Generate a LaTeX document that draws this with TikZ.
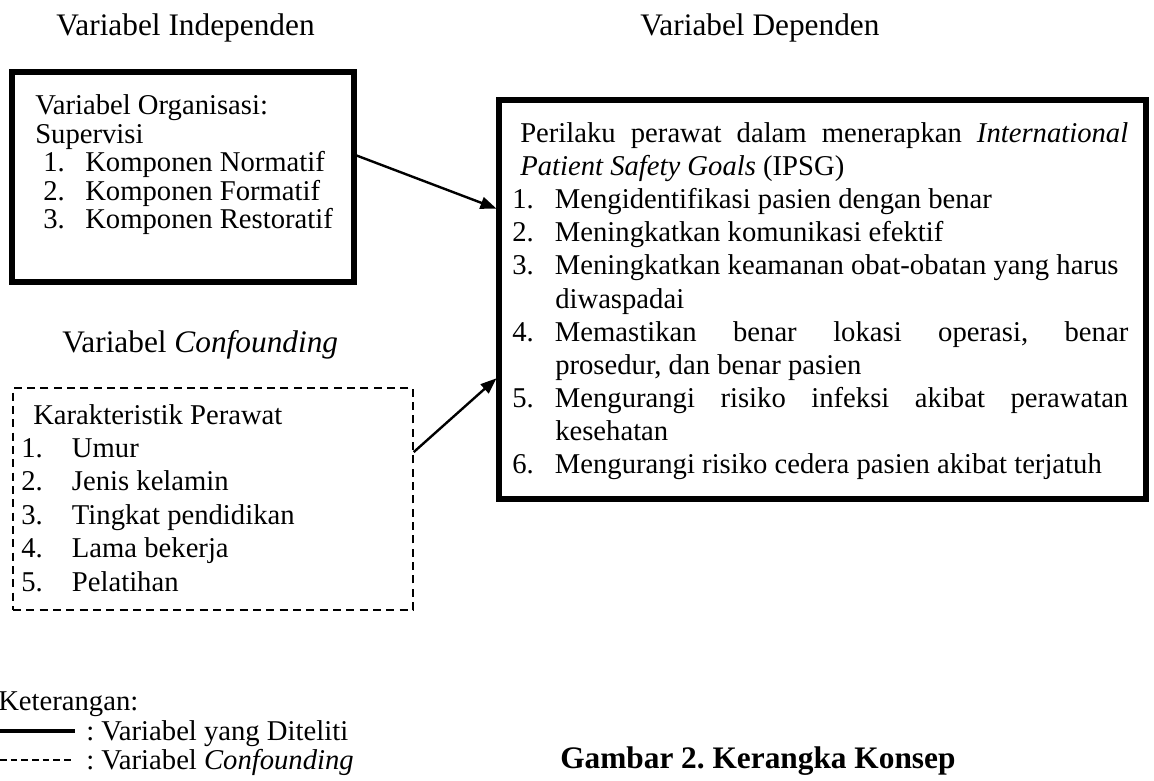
\documentclass[tikz,border=0pt]{standalone}
\usepackage{fontspec}
\setmainfont{Liberation Serif}
\usetikzlibrary{arrows.meta,calc,fit}
\frenchspacing
\begin{document}
\begin{tikzpicture}[x=0.75pt,y=-0.75pt,
    every node/.style={inner sep=0pt,font=\fontsize{21.5}{24}\selectfont},
    txt/.style={anchor=base west},
    head/.style={anchor=base west,font=\fontsize{23.5}{26}\selectfont},
    solidbox/.style={draw,line width=3.8pt,fit={#1}},
    dashbox/.style={draw,line width=1.1pt,dash pattern=on 6pt off 4pt,fit={#1}},
    link/.style={line width=1.8pt,-{Triangle[length=12pt,width=9pt]}}]
  \useasboundingbox (0,0) rectangle (1154,781);
  % headers
  \node[head] (hindep) at (56,36) {Variabel Independen};
  \node[head] (hdep) at (640,36) {Variabel Dependen};
  \node[head] (hconf) at (62,352) {Variabel \textit{Confounding}};
  % boxes
  \node[solidbox={(12,72) (354,282)}] (indep) {};
  \node[solidbox={(499,100) (1146,499)}] (dep) {};
  \node[dashbox={(13,388) (413,610)}] (conf) {};
  % independent variables
  \node[txt] (org) at (35,115) {Variabel Organisasi:};
  \node[txt] (sup) at (35,143.5) {Supervisi};
  \foreach \t [count=\i] in {Komponen Normatif,Komponen Formatif,Komponen Restoratif}
    \node[txt] (sup\i) at (43,143.5+28.5*\i) {\makebox[31.5pt][l]{\i.}\t};
  % confounding variables
  \node[txt] (kar) at (33,424) {Karakteristik Perawat};
  \foreach \t [count=\i] in {Umur,Jenis kelamin,Tingkat pendidikan,Lama bekerja,Pelatihan}
    \node[txt] (kar\i) at (21,424+33.4*\i) {\makebox[38pt][l]{\i.}\t};
  % dependent variable
  \node[txt] (ipsg) at (520,143) {\makebox[456pt][s]{Perilaku perawat dalam menerapkan \textit{International}}};
  \node[txt] (ipsgb) at (520,176) {\textit{Patient Safety Goals} (IPSG)};
  \node[txt] (g1) at (512,209) {\makebox[32pt][l]{1.}Mengidentifikasi pasien dengan benar};
  \node[txt] (g2) at (512,242) {\makebox[32pt][l]{2.}Meningkatkan komunikasi efektif};
  \node[txt] (g3) at (512,275) {\makebox[32pt][l]{3.}Meningkatkan keamanan obat-obatan yang harus};
  \node[txt] (g3b) at (555,308) {diwaspadai};
  \node[txt] (g4) at (512,341) {\makebox[32pt][l]{4.}\makebox[430pt][s]{Memastikan benar lokasi operasi, benar}};
  \node[txt] (g4b) at (555,374) {prosedur, dan benar pasien};
  \node[txt] (g5) at (512,407) {\makebox[32pt][l]{5.}\makebox[430pt][s]{Mengurangi risiko infeksi akibat perawatan}};
  \node[txt] (g5b) at (555,440) {kesehatan};
  \node[txt] (g6) at (512,473) {\makebox[32pt][l]{6.}Mengurangi risiko cedera pasien akibat terjatuh};
  % relations
  \draw[link] ($(indep.north east)!0.4!(indep.south east)$) -- ($(dep.north west)!0.275!(dep.south west)$);
  \draw[link] ($(conf.north east)!0.29!(conf.south east)$) -- ($(dep.north west)!0.695!(dep.south west)$);
  % legend
  \node[txt] (ket) at (-2,710) {Keterangan:};
  \coordinate (l1a) at (0,731);
  \coordinate (l1b) at (75,731);
  \coordinate (l2a) at (0,760);
  \coordinate (l2b) at (72,760);
  \draw[line width=3.5pt] (l1a) -- (l1b);
  \draw[line width=0.8pt,dash pattern=on 5pt off 3pt] (l2a) -- (l2b);
  \node[txt] (ket1) at (86,740) {: Variabel yang Diteliti};
  \node[txt] (ket2) at (86,769) {: Variabel \textit{Confounding}};
  \node[head,font=\fontsize{23.5}{26}\selectfont\bfseries] (judul) at (560,768) {Gambar 2. Kerangka Konsep};
\end{tikzpicture}
\end{document}
